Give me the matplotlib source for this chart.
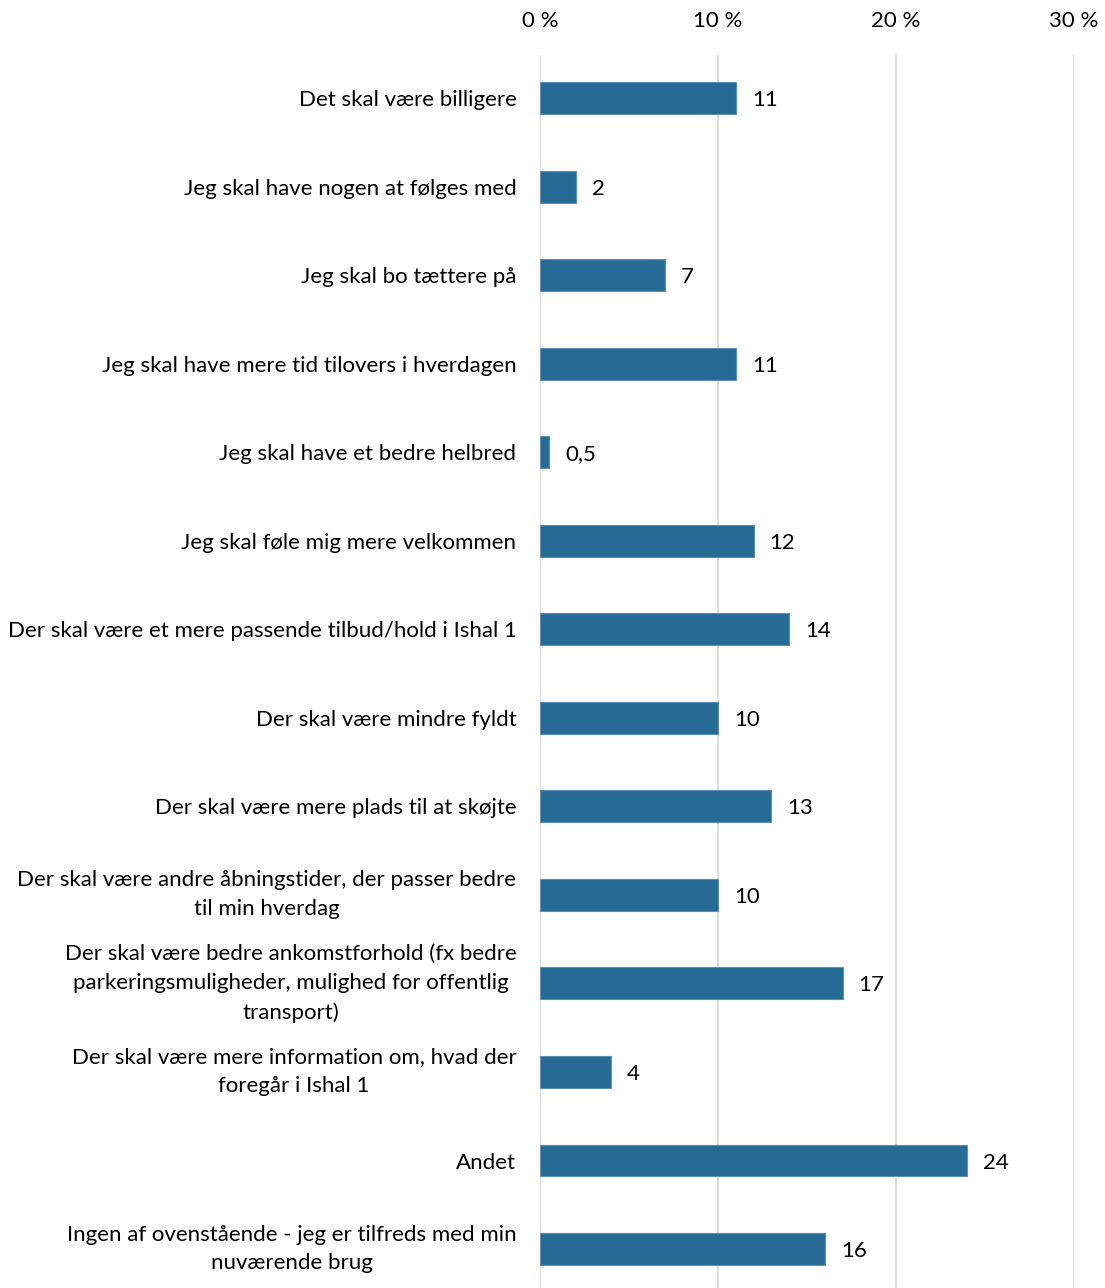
import numpy as np
import matplotlib.pyplot as plt

labels = [
    "Det skal være billigere",
    "Jeg skal have nogen at følges med",
    "Jeg skal bo tættere på",
    "Jeg skal have mere tid tilovers i hverdagen",
    "Jeg skal have et bedre helbred",
    "Jeg skal føle mig mere velkommen",
    "Der skal være et mere passende tilbud/hold i Ishal 1",
    "Der skal være mindre fyldt",
    "Der skal være mere plads til at skøjte",
    "Der skal være andre åbningstider, der passer bedre\ntil min hverdag",
    "Der skal være bedre ankomstforhold (fx bedre\nparkeringsmuligheder, mulighed for offentlig\ntransport)",
    "Der skal være mere information om, hvad der\nforegår i Ishal 1",
    "Andet",
    "Ingen af ovenstående - jeg er tilfreds med min\nnuværende brug",
]
values = [11, 2, 7, 11, 0.5, 12, 14, 10, 13, 10, 17, 4, 24, 16]
value_text = ["11", "2", "7", "11", "0,5", "12", "14", "10", "13", "10", "17", "4", "24", "16"]
ticks = [0, 10, 20, 30]

plt.rcParams['font.family'] = ['Lato', 'DejaVu Sans']

fig = plt.figure(figsize=(11.05, 12.88), dpi=100)
ax = fig.add_axes([540 / 1105, 0, (1074 - 540) / 1105, 1 - 55 / 1288])

y = np.arange(len(labels))
ax.barh(y, values, height=0.36, color='#276a93', edgecolor='#5b8fb5', linewidth=0.8, zorder=3)

for yi, v, t in zip(y, values, value_text):
    ax.annotate(t, (v, yi), xytext=(16, 0), textcoords='offset pixels',
                va='center_baseline', ha='left', fontsize=16, color='black')

ax.set_xlim(0, 30)
ax.set_ylim(13.44, -0.486)
ax.set_xticks(ticks)
ax.set_xticklabels([f"{t} %" for t in ticks], fontsize=16)
ax.xaxis.tick_top()
ax.tick_params(axis='x', length=0, pad=17)
ax.set_yticks(y)
ax.set_yticklabels(labels, fontsize=16, multialignment='center', linespacing=1.55)
for lab in ax.get_yticklabels():
    if "\n" in lab.get_text():
        lab.set_va('center')
ax.tick_params(axis='y', length=0, pad=17)
ax.grid(axis='x', color='#d9d9d9', linewidth=1.3, zorder=0)
for s in ax.spines.values():
    s.set_visible(False)

fig.savefig('out.png', dpi=100)
